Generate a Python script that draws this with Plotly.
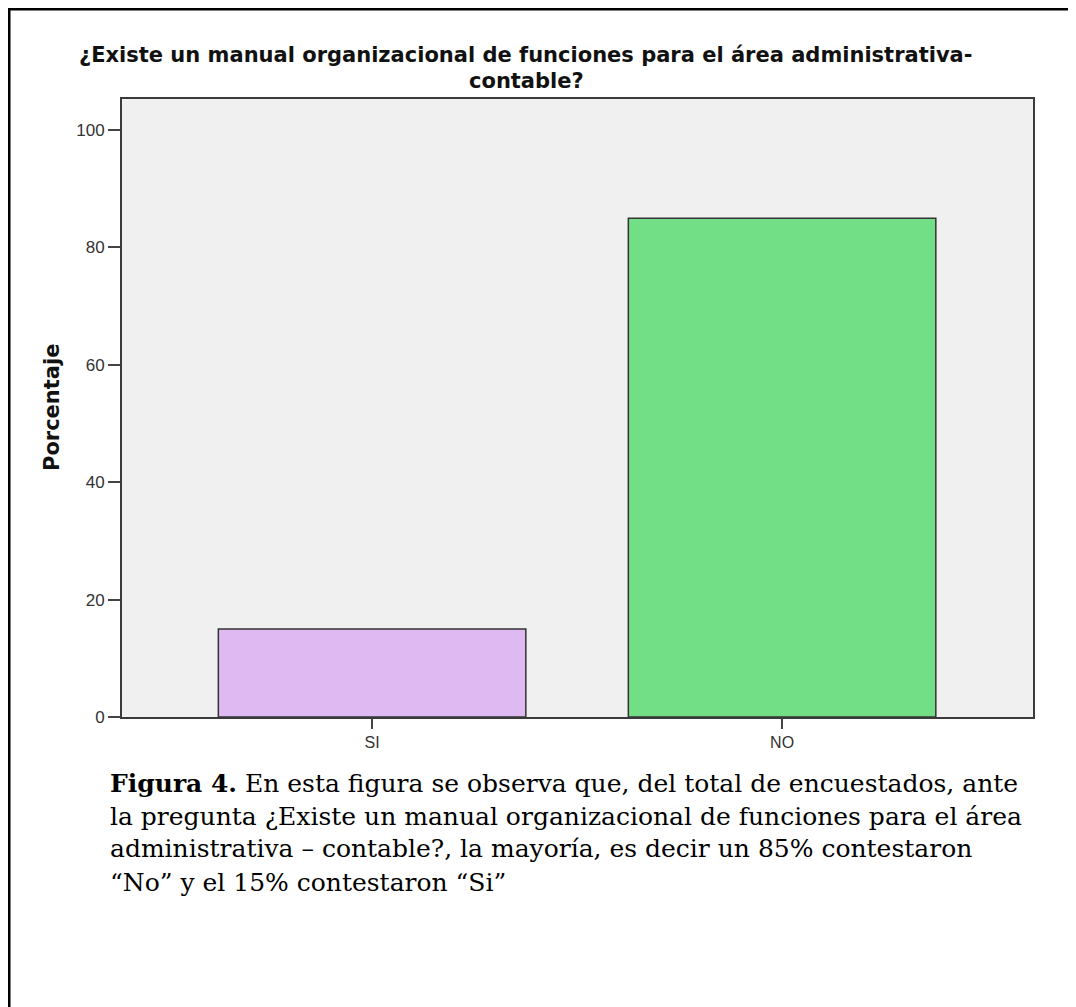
import plotly.graph_objects as go

categories = ["SI", "NO"]
values = [15, 85]
bar_colors = ["#DFB9F2", "#72DE86"]
y_ticks = [0, 20, 40, 60, 80, 100]

title_line1 = "¿Existe un manual organizacional de funciones para el área administrativa-"
title_line2 = "contable?"
y_title = "Porcentaje"
caption_lines = [
    "<b>Figura 4.</b> En esta figura se observa que, del total de encuestados, ante",
    "la pregunta ¿Existe un manual organizacional de funciones para el área",
    "administrativa – contable?, la mayoría, es decir un 85% contestaron",
    "“No” y el 15% contestaron “Si”",
]

OFF = 8  # page body margin
W, H = 1076 - OFF, 1007 - OFF
L, R, T, B = 122 - OFF, 1033 - OFF, 99 - OFF, 717 - OFF


def px(x):
    return (x - OFF - L) / (R - L)


def py(y):
    return (B - (y - OFF)) / (B - T)


fig = go.Figure()
fig.add_trace(go.Bar(
    x=categories, y=values, width=0.75,
    marker=dict(color=bar_colors, line=dict(color="#333333", width=1.5)),
    hoverinfo="x+y",
))

fig.update_layout(
    width=W, height=H,
    margin=dict(l=L, r=W - R, t=T, b=H - B, pad=0),
    paper_bgcolor="white", plot_bgcolor="#F0F0F0",
    showlegend=False,
    font=dict(family="Liberation Sans, Arial, sans-serif", color="#222222"),
    xaxis=dict(
        range=[-0.61, 1.612], showgrid=False, zeroline=False,
        showline=True, linecolor="#3a3a3a", linewidth=2, mirror=True,
        ticks="outside", ticklen=10, tickwidth=1.5, tickcolor="#444444",
        tickfont=dict(size=16, color="#333333"),
    ),
    yaxis=dict(
        range=[0, 105.3], tickvals=y_ticks, showgrid=False, zeroline=False,
        showline=True, linecolor="#3a3a3a", linewidth=2, mirror=True,
        ticks="outside", ticklen=12, tickwidth=1.5, tickcolor="#444444",
        tickfont=dict(size=17, color="#333333"),
    ),
)

title_font = dict(size=21, color="#111111", family="DejaVu Sans, Liberation Sans, sans-serif")
annotations = [
    dict(text="<b>" + title_line1 + "</b>", xref="paper", yref="paper",
         x=px(526), y=py(55), xanchor="center", yanchor="middle", showarrow=False,
         font=title_font),
    dict(text="<b>" + title_line2 + "</b>", xref="paper", yref="paper",
         x=px(526), y=py(81), xanchor="center", yanchor="middle", showarrow=False,
         font=title_font),
    dict(text="<b>" + y_title + "</b>", xref="paper", yref="paper",
         x=px(52), y=py(408), xanchor="center", yanchor="middle", showarrow=False,
         textangle=-90,
         font=dict(size=21, color="#111111", family="DejaVu Sans, Liberation Sans, sans-serif")),
]
for i, line in enumerate(caption_lines):
    annotations.append(dict(
        text=line, xref="paper", yref="paper",
        x=px(108), y=py(783 + 33 * i), xanchor="left", yanchor="middle", showarrow=False,
        font=dict(size=25, color="#000000", family="DejaVu Serif, Liberation Serif, serif"),
    ))
fig.update_layout(annotations=annotations)

fig.add_shape(type="line", xref="paper", yref="paper",
              x0=px(OFF), x1=px(1090), y0=py(OFF + 1), y1=py(OFF + 1),
              line=dict(color="black", width=3))
fig.add_shape(type="line", xref="paper", yref="paper",
              x0=px(OFF + 1), x1=px(OFF + 1), y0=py(OFF), y1=py(1020),
              line=dict(color="black", width=3))

fig.write_html("out.html")
